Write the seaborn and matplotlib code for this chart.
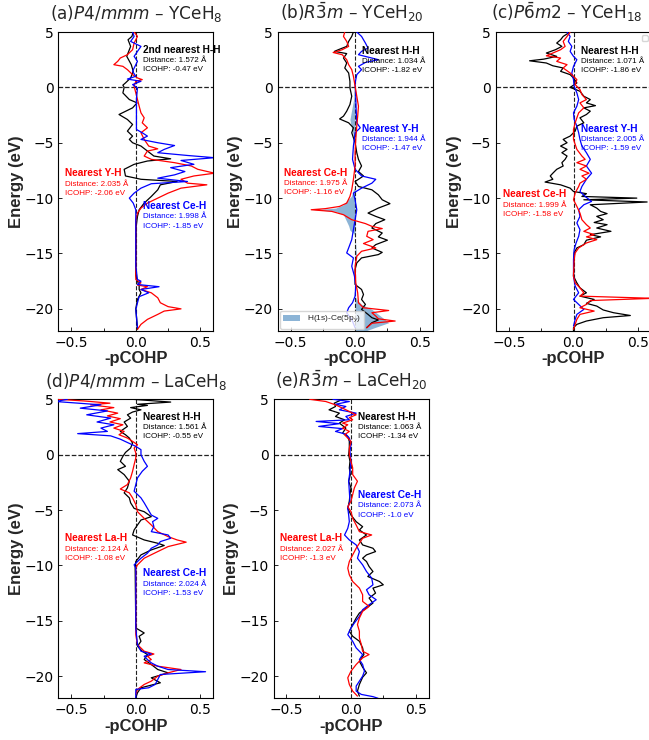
import matplotlib
matplotlib.use("Agg")
import matplotlib.pyplot as plt
import numpy as np
import pandas as pd
import seaborn as sns
from matplotlib.patches import Patch

# ---------------- data (energy in eV, -pCOHP) ----------------
A_HH = [(5.0,-0.02),(4.6,-0.03),(4.3,-0.06),(3.7,-0.04),(2.8,-0.07),(2.05,-0.035),(1.45,-0.02),(0.85,-0.04),
        (0.4,-0.08),(0.2,-0.1),(0.0,-0.09),(-0.5,-0.1),(-1.1,-0.05),(-1.4,0.01),(-1.85,-0.025),(-2.45,-0.13),
        (-2.9,-0.065),(-3.35,-0.025),(-3.95,-0.065),(-4.4,-0.025),(-4.7,-0.05),(-5.0,-0.025),(-5.3,0.04),
        (-5.75,0.09),(-6.2,0.14),(-6.45,0.27),(-6.65,0.09),(-6.95,-0.013),(-7.4,-0.09),(-8.0,-0.08),(-8.3,0.04),
        (-8.5,0.32),(-8.8,0.19),(-9.25,0.17),(-9.85,0.12),(-10.45,0.065),(-11.05,0.026),(-11.65,0.013),
        (-12.55,0.003),(-17.0,0.0),(-17.95,0.026),(-18.25,0.026),(-18.55,0.04),(-19.15,0.013),(-20.0,0.0),(-21.85,0.013)]
A_YH = [(5.0,-0.013),(4.6,0.013),(4.0,-0.013),(3.4,-0.025),(2.95,-0.065),(2.65,-0.12),(2.35,-0.14),(2.05,-0.17),
        (1.9,-0.1),(1.6,-0.065),(1.15,-0.025),(0.85,0.013),(0.7,0.05),(0.55,0.0),(0.1,-0.013),(-0.5,0.0),(-1.1,0.013),
        (-1.7,0.026),(-2.3,0.04),(-2.75,0.065),(-3.2,0.05),(-3.65,0.09),(-4.1,0.04),(-4.7,0.065),(-5.3,0.10),
        (-5.55,0.17),(-5.75,0.09),(-6.2,0.065),(-6.5,0.12),(-6.8,0.30),(-7.1,0.43),(-7.4,0.48),(-7.75,0.61),
        (-8.0,0.45),(-8.3,0.35),(-8.65,0.40),(-8.8,0.55),(-9.1,0.35),(-9.55,0.25),(-10.0,0.17),(-10.45,0.09),
        (-10.9,0.04),(-11.35,0.013),(-11.95,0.0),(-17.35,0.0),(-17.65,0.04),(-17.85,0.013),(-18.0,0.09),
        (-18.25,0.04),(-18.55,0.12),(-19.0,0.17),(-19.45,0.19),(-19.8,0.25),(-20.0,0.35),(-20.2,0.22),
        (-20.5,0.17),(-20.95,0.09),(-21.4,0.04),(-21.85,0.013)]
A_CEH = [(5.0,-0.025),(4.6,-0.013),(4.15,-0.04),(3.7,0.04),(3.25,0.013),(2.8,-0.013),(2.35,0.013),(2.05,0.0),
         (1.45,-0.025),(1.0,0.0),(0.75,-0.065),(0.55,0.04),(0.25,-0.025),(-0.05,0.013),(-1.0,0.005),(-3.8,0.005),
         (-4.1,0.05),(-4.4,0.09),(-4.7,0.04),(-5.0,0.17),(-5.25,0.30),(-5.6,0.22),(-5.9,0.17),(-6.15,0.40),
         (-6.35,0.61),(-6.6,0.35),(-6.95,0.45),(-7.25,0.27),(-7.6,0.38),(-7.9,0.30),(-8.2,0.17),(-8.5,0.40),
         (-8.7,0.12),(-9.1,0.04),(-9.55,-0.013),(-10.0,-0.05),(-10.45,-0.02),(-11.05,0.0),(-16.15,0.0),
         (-17.35,0.013),(-17.5,0.04),(-17.8,0.013),(-18.0,0.18),(-18.25,0.04),(-18.55,0.10),(-18.9,0.026),
         (-19.45,0.013),(-20.05,0.0),(-21.7,0.013)]

B_HH = [(5.0,-0.013),(4.6,-0.026),(4.15,-0.05),(3.7,-0.065),(3.4,-0.13),(3.25,-0.16),(3.05,-0.065),(2.65,-0.09),
        (2.2,-0.065),(1.75,-0.08),(1.3,-0.05),(0.55,-0.04),(-0.05,-0.04),(-0.8,-0.026),(-1.55,-0.04),(-2.15,-0.065),
        (-2.6,-0.09),(-2.85,-0.12),(-3.2,-0.05),(-3.65,-0.013),(-4.1,-0.026),(-5.0,0.0),(-5.9,0.013),(-6.5,0.026),
        (-7.1,0.05),(-7.6,0.026),(-8.0,0.065),(-8.5,0.0),(-8.95,0.026),(-9.25,0.13),(-9.7,0.18),(-10.15,0.21),
        (-10.5,0.27),(-10.9,0.18),(-11.35,0.10),(-11.65,0.16),(-11.95,0.23),(-12.3,0.16),(-12.7,0.13),(-13.15,0.21),
        (-13.5,0.18),(-13.8,0.25),(-14.2,0.16),(-14.5,0.13),(-14.9,0.21),(-15.1,0.18),(-15.4,0.05),(-15.85,0.013),
        (-16.45,0.0),(-17.8,0.0),(-18.25,0.05),(-18.7,0.065),(-19.15,0.05),(-19.6,0.08),(-20.05,0.05),(-20.5,0.10),
        (-20.8,0.13),(-21.0,0.18),(-21.25,0.13),(-21.7,0.09)]
B_CEH = [(5.0,-0.08),(4.6,-0.09),(4.15,-0.065),(3.7,-0.05),(3.4,-0.10),(3.15,-0.17),(2.95,-0.10),(2.5,-0.065),
         (2.05,-0.05),(1.6,-0.026),(1.0,-0.013),(0.1,0.0),(-0.8,0.013),(-1.7,0.026),(-2.6,0.02),(-3.5,0.013),
         (-4.7,0.005),(-5.9,0.0),(-7.1,0.0),(-8.3,-0.013),(-9.25,-0.026),(-9.85,-0.04),(-10.45,-0.065),(-10.75,-0.12),
         (-10.95,-0.23),(-11.05,-0.34),(-11.2,-0.18),(-11.5,-0.09),(-11.95,-0.026),(-12.3,0.08),(-12.55,0.13),
         (-12.75,0.21),(-13.0,0.10),(-13.45,0.09),(-13.75,0.14),(-14.1,0.065),(-14.5,0.16),(-14.8,0.05),
         (-15.25,0.013),(-16.15,0.0),(-17.65,0.005),(-18.55,0.02),(-19.45,0.026),(-19.9,0.065),(-20.15,0.26),
         (-20.35,0.13),(-20.65,0.16),(-20.9,0.18),(-21.1,0.31),(-21.3,0.13),(-21.7,0.09)]
B_YH = [(5.0,0.013),(4.6,0.05),(4.0,0.08),(3.55,0.10),(3.25,0.05),(2.95,0.026),(2.5,0.18),(2.25,0.08),(1.9,0.026),
        (1.6,0.05),(1.15,0.013),(0.4,0.0),(-0.8,0.005),(-2.0,0.008),(-3.2,0.013),(-3.65,0.04),(-4.1,0.0),
        (-5.3,-0.013),(-6.5,-0.02),(-7.4,0.0),(-8.0,0.05),(-8.3,0.16),(-8.65,0.13),(-9.1,0.05),(-9.55,-0.013),
        (-10.15,0.0),(-11.05,0.013),(-11.95,0.0),(-12.85,-0.013),(-13.75,-0.026),(-14.5,-0.05),(-14.95,-0.065),
        (-15.4,-0.013),(-16.15,-0.026),(-17.05,-0.005),(-17.95,0.005),(-18.85,0.0),(-19.45,-0.02),(-19.9,-0.05),
        (-20.35,-0.065),(-20.95,-0.026),(-21.7,0.0)]
B_CE5P = [(0.5,0.0),(-0.5,-0.01),(-1.0,-0.01),(-2.0,-0.026),(-2.9,-0.04),(-3.8,-0.026),(-4.7,-0.005),(-5.5,0.0),
          (-9.0,0.0),(-9.25,-0.013),(-9.85,-0.03),(-10.3,-0.07),(-10.6,-0.09),(-10.9,-0.15),(-11.05,-0.32),
          (-11.2,-0.15),(-11.5,-0.09),(-12.0,-0.07),(-12.5,-0.05),(-12.9,-0.04),(-13.2,-0.01),(-13.5,0.0),
          (-15.4,0.013),(-15.85,0.0),(-18.85,0.0),(-19.15,0.013),(-19.6,0.05),(-20.05,0.13),(-20.5,0.18),
          (-20.95,0.23),(-21.25,0.26),(-21.7,0.15),(-22.0,0.08)]

C_HH = [(5.0,-0.026),(4.6,-0.08),(4.3,-0.10),(4.0,-0.13),(3.7,-0.09),(3.4,-0.14),(3.1,-0.21),(2.8,-0.13),
        (2.55,-0.23),(2.4,-0.34),(2.2,-0.21),(1.95,-0.16),(1.75,-0.08),(1.45,-0.10),(1.15,-0.026),(0.85,0.0),
        (0.4,0.026),(0.0,-0.026),(-0.35,0.05),(-0.8,0.08),(-1.1,0.13),(-1.4,0.10),(-1.65,0.17),(-1.85,0.08),
        (-2.15,0.13),(-2.45,0.10),(-2.75,0.05),(-3.2,0.08),(-3.5,0.026),(-3.95,0.013),(-4.4,-0.026),(-4.7,-0.08),
        (-5.0,-0.05),(-5.3,-0.10),(-5.6,-0.05),(-5.9,-0.09),(-6.2,-0.05),(-6.5,-0.065),(-6.8,-0.09),(-7.1,-0.08),
        (-7.4,-0.13),(-7.75,-0.16),(-8.0,-0.18),(-8.3,-0.16),(-8.55,-0.22),(-8.8,-0.10),(-9.1,-0.026),(-9.4,0.0),
        (-9.6,0.10),(-9.85,0.065),(-10.0,0.49),(-10.15,0.08),(-10.35,0.57),(-10.6,0.13),(-10.9,0.18),(-11.2,0.21),
        (-11.4,0.26),(-11.65,0.18),(-11.95,0.23),(-12.2,0.16),(-12.4,0.26),(-12.7,0.18),(-13.0,0.29),(-13.3,0.13),
        (-13.5,0.21),(-13.8,0.10),(-14.2,0.08),(-14.5,0.026),(-14.95,0.005),(-17.05,0.0),(-17.65,0.026),
        (-18.1,0.05),(-18.55,0.10),(-18.85,0.05),(-19.15,0.16),(-19.5,0.10),(-19.75,0.18),(-20.1,0.23),
        (-20.35,0.31),(-20.6,0.44),(-20.8,0.23),(-21.1,0.10),(-21.4,0.026),(-21.7,0.0),(-22.0,0.0)]
C_CEH = [(5.0,-0.026),(4.6,-0.05),(4.15,-0.08),(3.7,-0.065),(3.4,-0.10),(3.1,-0.16),(2.85,-0.21),(2.65,-0.10),
         (2.35,-0.13),(2.05,-0.05),(1.75,-0.08),(1.3,-0.026),(0.7,0.026),(0.25,0.013),(-0.2,0.05),(-0.65,0.065),
         (-1.1,0.10),(-1.4,0.05),(-1.85,0.08),(-2.3,0.04),(-2.75,0.026),(-3.2,0.013),(-3.8,0.0),(-4.7,0.0),
         (-5.6,0.026),(-6.2,0.065),(-6.5,0.09),(-6.8,0.026),(-7.1,0.10),(-7.4,0.05),(-7.75,0.12),(-8.0,0.065),
         (-8.3,0.10),(-8.65,0.05),(-8.95,0.04),(-9.25,0.026),(-9.55,0.013),(-10.15,0.0),(-10.75,0.026),
         (-11.35,0.05),(-11.95,0.065),(-12.4,0.10),(-12.7,0.13),(-13.0,0.08),(-13.3,0.16),(-13.5,0.10),
         (-13.75,0.18),(-14.05,0.10),(-14.5,0.04),(-14.95,0.013),(-15.55,0.005),(-17.05,0.0),(-17.65,0.013),
         (-18.1,0.05),(-18.55,0.08),(-18.85,0.05),(-19.05,0.62),(-19.25,0.13),(-19.6,0.10),(-19.9,0.05),
         (-20.2,0.16),(-20.5,0.05),(-20.95,0.026),(-21.4,0.013),(-21.85,0.0)]
C_YH = [(5.0,-0.05),(4.6,-0.026),(4.15,-0.04),(3.7,-0.013),(3.25,-0.026),(2.8,0.0),(2.5,0.026),(1.9,0.0),
        (1.3,-0.013),(0.7,0.0),(0.1,0.005),(-0.5,0.026),(-1.1,0.04),(-1.7,0.026),(-2.3,0.0),(-2.9,0.005),
        (-3.5,0.026),(-4.1,0.04),(-4.7,0.05),(-5.3,0.065),(-5.9,0.10),(-6.5,0.13),(-7.1,0.10),(-7.75,0.14),
        (-8.3,0.10),(-8.95,0.065),(-9.4,0.05),(-9.85,0.09),(-10.3,0.14),(-10.6,0.08),(-11.05,0.04),(-11.65,0.05),
        (-12.25,0.026),(-12.85,0.05),(-13.45,0.04),(-14.05,0.02),(-14.65,0.005),(-15.55,0.0),(-17.05,0.0),
        (-17.95,0.013),(-18.55,0.04),(-19.15,0.0),(-19.6,0.04),(-20.05,0.08),(-20.5,0.026),(-20.95,0.013),(-21.55,0.0)]

D_HH = [(5.0,-0.025),(4.75,0.27),(4.55,0.013),(4.45,0.09),(4.25,-0.04),(4.05,0.04),(3.85,-0.025),(3.6,-0.065),
        (3.3,-0.04),(2.95,-0.09),(2.55,-0.065),(2.1,-0.12),(1.8,-0.08),(1.5,-0.05),(1.05,-0.025),(0.6,-0.04),
        (0.2,-0.08),(-0.15,-0.10),(-0.6,-0.12),(-1.05,-0.08),(-1.35,-0.14),(-1.8,-0.09),(-2.4,-0.05),(-3.0,-0.065),
        (-3.45,-0.09),(-3.9,-0.05),(-4.35,-0.04),(-4.85,-0.013),(-5.15,0.065),(-5.6,0.12),(-5.9,0.04),
        (-6.35,0.013),(-6.8,-0.013),(-7.25,-0.025),(-7.7,0.065),(-8.0,0.17),(-8.2,0.22),(-8.6,0.12),(-9.05,0.04),
        (-9.65,0.0),(-10.25,-0.005),(-15.65,0.0),(-16.1,0.065),(-16.4,0.026),(-16.85,0.04),(-17.3,0.013),
        (-17.75,0.05),(-18.05,0.09),(-18.5,0.065),(-18.95,0.12),(-19.4,0.17),(-19.7,0.25),(-20.15,0.12),
        (-20.6,0.19),(-21.05,0.04),(-21.5,0.013),(-21.95,0.0)]
D_LAH = [(5.0,-0.6),(4.85,-0.4),(4.65,-0.2),(4.5,-0.35),(4.25,-0.17),(4.05,-0.27),(3.75,-0.14),(3.5,-0.22),
         (3.25,-0.12),(2.95,-0.2),(2.7,-0.10),(2.4,-0.17),(2.1,-0.09),(1.8,-0.13),(1.5,-0.065),(1.2,-0.025),
         (0.9,0.013),(0.6,-0.013),(0.15,0.0),(-0.3,0.0),(-0.9,-0.013),(-1.5,-0.025),(-2.1,-0.04),(-2.7,-0.065),
         (-3.1,-0.12),(-3.45,-0.05),(-3.9,-0.025),(-4.5,0.0),(-5.15,0.013),(-5.75,0.065),(-6.35,0.12),
         (-6.95,0.17),(-7.4,0.25),(-7.7,0.32),(-7.9,0.39),(-8.3,0.25),(-8.75,0.17),(-9.35,0.065),(-9.95,0.013),
         (-10.25,0.0),(-16.25,0.0),(-17.15,0.013),(-17.75,0.065),(-18.0,0.14),(-18.2,0.09),(-18.5,0.12),
         (-18.8,0.065),(-19.1,0.17),(-19.4,0.35),(-19.7,0.25),(-20.0,0.17),(-20.45,0.12),(-20.75,0.065),
         (-21.2,0.013),(-21.65,0.0)]
D_CEH = [(5.0,-0.53),(4.8,-0.62),(4.5,-0.27),(4.2,-0.43),(3.95,-0.22),(3.6,-0.38),(3.3,-0.195),(2.95,-0.3),
         (2.7,-0.17),(2.4,-0.27),(2.1,-0.22),(1.9,-0.45),(1.7,-0.195),(1.4,-0.12),(1.1,-0.065),(0.75,0.0),
         (0.45,0.04),(0.0,0.04),(-0.6,0.065),(-1.05,0.09),(-1.5,0.05),(-2.1,0.013),(-2.7,0.0),(-3.3,-0.013),
         (-3.9,0.04),(-4.35,0.065),(-4.85,0.09),(-5.45,0.12),(-5.75,0.17),(-6.05,0.13),(-6.5,0.14),(-6.95,0.12),
         (-7.25,0.25),(-7.55,0.27),(-7.85,0.19),(-8.15,0.17),(-8.45,0.12),(-8.9,0.09),(-9.35,0.04),(-9.8,0.0),
         (-9.95,-0.013),(-10.25,0.0),(-15.65,0.0),(-17.15,0.013),(-17.75,0.04),(-18.0,0.12),(-18.2,0.065),
         (-18.5,0.09),(-18.8,0.12),(-19.1,0.17),(-19.4,0.25),(-19.6,0.54),(-19.85,0.19),(-20.3,0.17),
         (-20.75,0.15),(-21.05,0.10),(-21.2,0.0),(-22.0,0.0)]

E_HH = [(5.0,-0.065),(4.65,-0.13),(4.35,-0.12),(4.05,-0.17),(3.75,-0.09),(3.45,-0.12),(3.15,-0.05),(2.85,-0.09),
        (2.4,-0.04),(1.95,-0.065),(1.65,-0.025),(1.2,-0.013),(0.6,-0.013),(0.0,-0.018),(-0.6,-0.008),(-1.2,-0.013),
        (-1.8,-0.005),(-2.4,-0.018),(-3.0,0.0),(-3.6,-0.008),(-4.2,-0.013),(-4.85,-0.025),(-5.45,0.0),(-6.05,0.04),
        (-6.5,0.09),(-6.8,0.065),(-7.25,0.12),(-7.7,0.065),(-8.15,0.09),(-8.45,0.17),(-8.75,0.19),(-9.05,0.12),
        (-9.35,0.09),(-9.65,0.12),(-10.1,0.14),(-10.55,0.17),(-11.0,0.13),(-11.45,0.22),(-11.75,0.25),(-12.05,0.17),
        (-12.5,0.19),(-12.95,0.14),(-13.4,0.17),(-13.85,0.12),(-14.3,0.065),(-14.75,0.04),(-15.35,0.013),
        (-15.95,-0.013),(-16.4,0.013),(-16.85,0.065),(-17.45,0.09),(-18.05,0.10),(-18.65,0.065),(-19.2,0.09),
        (-19.7,0.12),(-20.1,0.09),(-20.75,0.065),(-21.35,0.05),(-21.8,0.065)]
E_LAH = [(5.0,-0.32),(4.8,-0.195),(4.5,-0.12),(4.2,-0.065),(3.9,-0.013),(3.6,0.04),(3.35,-0.013),(3.15,0.013),
         (2.85,-0.065),(2.7,-0.025),(2.4,-0.065),(2.1,-0.013),(1.8,-0.05),(1.5,-0.025),(1.2,0.0),(0.6,-0.013),
         (0.0,-0.013),(-0.6,0.0),(-1.2,0.013),(-1.8,0.013),(-2.4,0.05),(-3.0,0.026),(-3.6,0.013),(-4.2,0.0),
         (-4.7,-0.025),(-5.15,0.0),(-5.75,0.013),(-6.35,0.04),(-6.95,0.065),(-7.25,0.16),(-7.55,0.09),(-8.0,0.065),
         (-8.45,0.04),(-9.05,0.013),(-9.65,-0.013),(-10.25,-0.025),(-10.85,-0.013),(-11.45,0.013),(-12.05,0.065),
         (-12.65,0.09),(-13.25,0.09),(-13.7,0.14),(-14.15,0.09),(-14.75,0.065),(-15.35,0.05),(-15.95,0.065),
         (-16.55,0.065),(-17.15,0.08),(-17.75,0.09),(-18.05,0.14),(-18.35,0.09),(-18.95,0.04),(-19.55,0.0),
         (-20.15,-0.025),(-20.75,-0.013),(-21.35,0.013),(-21.8,0.05)]
E_CEH = [(5.0,-0.14),(4.8,-0.013),(4.55,-0.12),(4.35,-0.04),(4.05,-0.09),(3.75,0.04),(3.45,-0.04),(3.15,-0.013),
         (3.0,-0.27),(2.8,-0.09),(2.55,-0.25),(2.35,-0.065),(2.1,-0.12),(1.85,-0.04),(1.5,-0.013),(0.9,0.0),
         (0.3,-0.008),(-0.6,0.0),(-1.5,-0.008),(-2.4,-0.018),(-3.3,-0.013),(-4.2,-0.008),(-4.85,-0.025),
         (-5.45,-0.018),(-6.05,-0.013),(-6.65,-0.025),(-7.25,-0.05),(-7.7,-0.013),(-8.15,0.04),(-8.75,0.065),
         (-9.35,0.05),(-9.95,0.09),(-10.55,0.12),(-11.15,0.16),(-11.75,0.17),(-12.2,0.12),(-12.65,0.14),
         (-13.1,0.195),(-13.55,0.14),(-14.0,0.09),(-14.6,0.065),(-15.2,0.026),(-15.65,0.0),(-16.25,-0.025),
         (-16.85,0.013),(-17.45,0.04),(-18.05,0.09),(-18.5,0.065),(-18.95,0.09),(-19.55,0.104),(-20.0,0.09),
         (-20.45,0.065),(-20.9,0.04),(-21.35,0.04),(-21.65,0.08),(-21.85,0.17),(-22.0,0.21)]

TITLES = [r"(a)$\mathit{P4/mmm}$ – YCeH$_8$", r"(b)$\mathit{R\bar{3}m}$ – YCeH$_{20}$",
          r"(c)$\mathit{P\bar{6}m2}$ – YCeH$_{18}$", r"(d)$\mathit{P4/mmm}$ – LaCeH$_8$",
          r"(e)$\mathit{R\bar{3}m}$ – LaCeH$_{20}$"]
BOND_NAMES = [["2nd nearest H-H", "Nearest Y-H", "Nearest Ce-H"],
              ["Nearest H-H", "Nearest Y-H", "Nearest Ce-H"],
              ["Nearest H-H", "Nearest Y-H", "Nearest Ce-H"],
              ["Nearest H-H", "Nearest La-H", "Nearest Ce-H"],
              ["Nearest H-H", "Nearest Ce-H", "Nearest La-H"]]
DISTANCES = [["1.572", "2.035", "1.998"], ["1.034", "1.944", "1.975"], ["1.071", "2.005", "1.999"],
             ["1.561", "2.124", "2.024"], ["1.063", "2.073", "2.027"]]
ICOHP = [["-0.47", "-2.06", "-1.85"], ["-1.82", "-1.47", "-1.16"], ["-1.86", "-1.59", "-1.58"],
         ["-0.55", "-1.08", "-1.53"], ["-1.34", "-1.0", "-1.3"]]
CURVES = [[A_HH, A_YH, A_CEH], [B_HH, B_YH, B_CEH], [C_HH, C_YH, C_CEH],
          [D_HH, D_LAH, D_CEH], [E_HH, E_CEH, E_LAH]]
FILL_LABEL = r"H(1s)-Ce(5p$_y$)"

# ---------------- style / layout ----------------
sns.set_theme(style="ticks")
plt.rcParams.update({
    "font.family": ["DejaVu Sans"],
    "mathtext.fontset": "dejavusans",
    "xtick.direction": "in", "ytick.direction": "in",
    "xtick.labelsize": 10, "ytick.labelsize": 10,
    "axes.linewidth": 0.8, "axes.edgecolor": "black",
    "xtick.color": "black", "ytick.color": "black",
})
LAB = dict(family="Liberation Sans", fontweight="bold", fontsize=12)
FILL_COLOR = "#8cb4d6"

COLORS = [["black", "red", "blue"], ["black", "blue", "red"], ["black", "blue", "red"],
          ["black", "red", "blue"], ["black", "blue", "red"]]
TXT_POS = [[(0.548, 0.94), (0.043, 0.527), (0.544, 0.418)],
           [(0.543, 0.937), (0.543, 0.677), (0.043, 0.53)],
           [(0.548, 0.937), (0.548, 0.677), (0.047, 0.457)],
           [(0.544, 0.942), (0.043, 0.535), (0.544, 0.418)],
           [(0.543, 0.942), (0.543, 0.68), (0.042, 0.535)]]
TITLE_X = [0.5, 0.48, 0.455, 0.5, 0.5]
W, H = 649, 740
AX_RECT = [(58.3, 32), (277.6, 32), (496, 32), (58.3, 399.3), (273.5, 399.3)]
AW, AH = 155, 299

fig = plt.figure(figsize=(W / 100, H / 100), dpi=100)
for i in range(5):
    x0, y0 = AX_RECT[i]
    ax = fig.add_axes([x0 / W, 1 - (y0 + AH) / H, AW / W, AH / H])
    if i == 1:
        fdf = pd.DataFrame(B_CE5P, columns=["E", "v"])
        ax.fill_betweenx(fdf["E"], 0, fdf["v"], color=FILL_COLOR, lw=0, zorder=1)
    for data, col in zip(CURVES[i], COLORS[i]):
        df = pd.DataFrame(data, columns=["E", "v"])
        sns.lineplot(data=df, x="v", y="E", orient="y", sort=False, estimator=None,
                     color=col, lw=0.9, ax=ax, legend=False, zorder=3)
    ax.axhline(0, color="#222222", ls="--", lw=0.9, zorder=2)
    ax.axvline(0, color="#222222", ls="--", lw=0.8, zorder=2)
    ax.set_xlim(-0.6, 0.6)
    ax.set_ylim(-22, 5)
    ax.set_xticks([-0.5, 0.0, 0.5])
    ax.set_xticks([-0.25, 0.25], minor=True)
    ax.set_yticks([5, 0, -5, -10, -15, -20])
    ax.tick_params(which="both", length=3, width=0.6)
    ax.tick_params(which="minor", length=2)
    ax.set_xlabel("-pCOHP", **LAB, labelpad=1)
    ax.set_ylabel("Energy (eV)", **LAB, labelpad=0)
    ax.set_title(TITLES[i], fontsize=12.2, pad=9, x=TITLE_X[i])
    for j in range(3):
        tx, ty = TXT_POS[i][j]
        col = COLORS[i][j]
        ax.text(tx, ty, BOND_NAMES[i][j], transform=ax.transAxes, color=col, family="Liberation Sans",
                fontweight="bold", fontsize=7.3, va="center", ha="left")
        ax.text(tx, ty - 0.036, f"Distance: {DISTANCES[i][j]} Å", transform=ax.transAxes, color=col,
                family="Liberation Sans", fontsize=5.8, va="center", ha="left")
        ax.text(tx, ty - 0.067, f"ICOHP: {ICOHP[i][j]} eV", transform=ax.transAxes, color=col,
                family="Liberation Sans", fontsize=5.8, va="center", ha="left")
    if i == 1:
        ax.legend(handles=[Patch(facecolor=FILL_COLOR, edgecolor="none", label=FILL_LABEL)],
                  loc="lower left", prop={"family": "Liberation Sans", "size": 6}, frameon=True,
                  borderaxespad=0.3)
    if i == 2:
        ax.legend(handles=[], loc="upper right", prop={"size": 5}, frameon=True)

fig.savefig("out.png", dpi=100)
